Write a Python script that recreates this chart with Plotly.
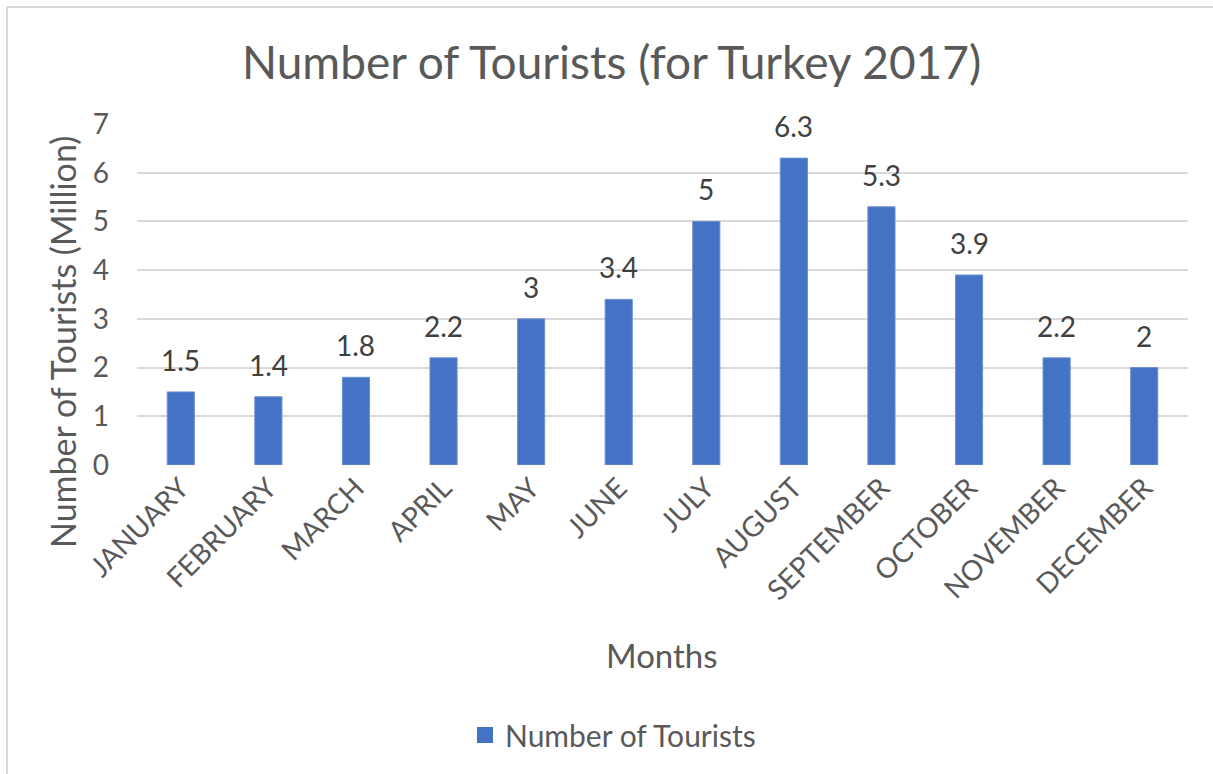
import plotly.graph_objects as go

months = ["JANUARY", "FEBRUARY", "MARCH", "APRIL", "MAY", "JUNE", "JULY",
          "AUGUST", "SEPTEMBER", "OCTOBER", "NOVEMBER", "DECEMBER"]
tourists = [1.5, 1.4, 1.8, 2.2, 3, 3.4, 5, 6.3, 5.3, 3.9, 2.2, 2]
y_ticks = [0, 1, 2, 3, 4, 5, 6, 7]

FONT = "Lato, 'Open Sans', sans-serif"
GRAY = "#595959"
BLUE = "#4472C4"

W, H = 1213, 774
L, R, T, B = 137, 25, 124, 309
pw, ph = W - L - R, H - T - B

def px(x):
    return (x - L) / pw

def py(y):
    return (H - B - y) / ph

fig = go.Figure()
fig.add_trace(go.Bar(
    x=months, y=tourists, name="Number of Tourists",
    marker=dict(color=BLUE, line=dict(color="#6f8fd0", width=1)),
    showlegend=False,
))
# legend entry with a larger square swatch
fig.add_trace(go.Scatter(
    x=[None], y=[None], mode="markers", name="Number of Tourists",
    marker=dict(symbol="square", size=18, color=BLUE), showlegend=True,
))

labels = [dict(x=m, y=v, xref="x", yref="y", text=f"{v:g}", showarrow=False,
               xanchor="center", yanchor="bottom", yshift=13,
               font=dict(family=FONT, size=28, color="#404040"))
          for m, v in zip(months, tourists)]

fig.update_layout(
    width=W, height=H,
    margin=dict(l=L, r=R, t=T, b=B, autoexpand=False),
    paper_bgcolor="white", plot_bgcolor="white",
    bargap=0.69,
    font=dict(family=FONT, color=GRAY),
    showlegend=True,
    legend=dict(orientation="h", x=px(613), y=py(735), xanchor="center", yanchor="middle",
                font=dict(size=30, color=GRAY, family=FONT), itemwidth=30),
    xaxis=dict(tickangle=-45, tickfont=dict(size=28, color=GRAY), showgrid=False,
               showline=False, ticks="", zeroline=False),
    yaxis=dict(range=[0, 7], tickvals=y_ticks, tickfont=dict(size=28, color=GRAY),
               showgrid=True, gridcolor="#d9d9d9", gridwidth=2, zeroline=False,
               ticks="", ticklabelstandoff=27),
    annotations=labels + [
        dict(text="Number of Tourists (for Turkey 2017)", xref="paper", yref="paper",
             x=px(611), y=py(62), xanchor="center", yanchor="middle", showarrow=False,
             font=dict(size=46, color=GRAY, family=FONT)),
        dict(text="Number of Tourists (Million)", xref="paper", yref="paper",
             x=px(62), y=py(342), xanchor="center", yanchor="middle", showarrow=False,
             textangle=-90, font=dict(size=34, color=GRAY, family=FONT)),
        dict(text="Months", xref="paper", yref="paper",
             x=px(662), y=py(655), xanchor="center", yanchor="middle", showarrow=False,
             font=dict(size=33, color=GRAY, family=FONT)),
    ],
    shapes=[
        dict(type="line", xref="paper", yref="paper", x0=px(7), x1=px(7), y0=py(7), y1=py(800),
             line=dict(color="#d9d9d9", width=2)),
        dict(type="line", xref="paper", yref="paper", x0=px(7), x1=px(1230), y0=py(7), y1=py(7),
             line=dict(color="#d9d9d9", width=2)),
    ],
)

fig.write_html("out.html")
